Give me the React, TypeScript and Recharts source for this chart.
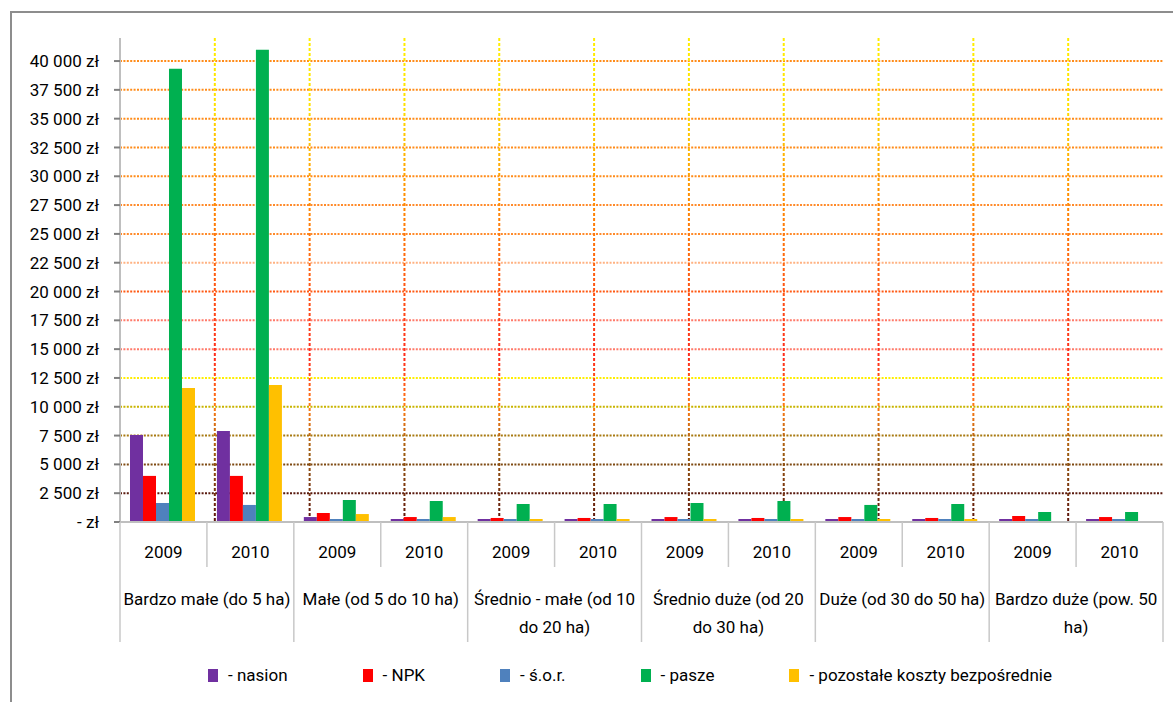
import React from "react";
import { BarChart, Bar, XAxis, YAxis, CartesianGrid, Legend } from "recharts";

const FONT = "Roboto, 'Open Sans', sans-serif";
const FS = 17;

// farm size groups (label lines) and years
const groups = [
  ["Bardzo małe (do 5 ha)"],
  ["Małe (od 5 do 10 ha)"],
  ["Średnio - małe (od 10", "do 20 ha)"],
  ["Średnio duże (od 20", "do 30 ha)"],
  ["Duże (od 30 do 50 ha)"],
  ["Bardzo duże (pow. 50", "ha)"],
];
const years = ["2009", "2010"];

// values per cell: group x year (zł)
const nasion = [7550, 7900, 430, 260, 260, 260, 260, 260, 260, 260, 260, 260];
const npk = [4000, 4000, 780, 430, 350, 350, 430, 350, 430, 350, 520, 430];
const sor = [1650, 1480, 260, 260, 260, 260, 260, 260, 260, 260, 260, 260];
const pasze = [39330, 40970, 1910, 1820, 1560, 1560, 1650, 1820, 1480, 1560, 870, 870];
const pozostale = [11630, 11890, 690, 430, 260, 260, 260, 260, 260, 260, 60, 60];

const yTicks = [
  0, 2500, 5000, 7500, 10000, 12500, 15000, 17500, 20000, 22500, 25000, 27500, 30000, 32500, 35000,
  37500, 40000,
];

const series = [
  { key: "nasion", name: "- nasion", values: nasion },
  { key: "npk", name: "- NPK", values: npk },
  { key: "sor", name: "- ś.o.r.", values: sor },
  { key: "pasze", name: "- pasze", values: pasze },
  { key: "pozostale", name: "- pozostałe koszty bezpośrednie", values: pozostale },
];

const colors: Record<string, string> = {
  nasion: "#7030A0",
  npk: "#FF0000",
  sor: "#4F81BD",
  pasze: "#00B050",
  pozostale: "#FFC000",
};

// horizontal grid colour per y tick (Excel gradient line look)
const hGridColors = [
  "none", "#5a1a0e", "#7f4a12", "#a87a12", "#c9b400", "#ffee00", "#ff7a6a", "#ff7a6a",
  "#ff5a14", "#ffb282", "#ff8a2a", "#ff8a2a", "#ff8c1a", "#ff8c1a", "#ff8c1a", "#ff8c1a", "#ff8c1a",
];

const data = groups.flatMap((g, gi) =>
  years.map((yr, yi) => {
    const i = gi * 2 + yi;
    const row: Record<string, any> = { slot: `${gi}-${yr}`, year: yr, group: gi };
    series.forEach((s) => (row[s.key] = s.values[i]));
    return row;
  })
);

const cellEdges = Array.from({ length: data.length + 1 }, (_, i) => i);

const formatZl = (v: number) =>
  v === 0 ? "- zł" : `${Math.floor(v / 1000)} ${String(v % 1000).padStart(3, "0")} zł`;

const CellTick = (props: any) => {
  const { x, y, payload } = props;
  const i = payload.index;
  const half = payload.offset;
  const row = data[i];
  const even = i % 2 === 0;
  const lines = groups[row.group];
  const sep = "#c8c8c8";
  return (
    <g>
      <line x1={x - half} y1={y} x2={x - half} y2={y + (even ? 120 : 45)} stroke={sep} strokeWidth={1.5} />
      {i === data.length - 1 && (
        <line x1={x + half} y1={y} x2={x + half} y2={y + 120} stroke={sep} strokeWidth={1.5} />
      )}
      <text x={x} y={y + 36} textAnchor="middle" fontFamily={FONT} fontSize={FS} fill="#000">
        {row.year}
      </text>
      {even &&
        lines.map((l: string, k: number) => (
          <text key={k} x={x + half} y={y + 83 + k * 28} textAnchor="middle" fontFamily={FONT} fontSize={FS} fill="#000">
            {l}
          </text>
        ))}
    </g>
  );
};

const renderLegend = () => (
  <div style={{ display: "flex", justifyContent: "center", gap: 75, fontFamily: FONT, fontSize: FS, color: "#000" }}>
    {series.map((s) => (
      <div key={s.key} style={{ display: "flex", alignItems: "center" }}>
        <span style={{ display: "inline-block", width: 10, height: 13, background: colors[s.key], marginRight: 10 }} />
        <span>{s.name}</span>
      </div>
    ))}
  </div>
);

export default function App() {
  return (
    <div style={{ position: "absolute", left: 0, top: 0, width: 1173, height: 702, overflow: "hidden", background: "#fff" }}>
      <div style={{ position: "absolute", left: 10, top: 11, width: 1300, height: 800, border: "2px solid #8d8d8d" }} />
      <div style={{ position: "absolute", left: 0, top: 0 }}>
        <BarChart
          width={1173}
          height={702}
          data={data}
          margin={{ top: 38, right: 10, left: 20, bottom: 10 }}
          barCategoryGap="11.5%"
          barGap={0}
        >
          <defs>
            <linearGradient id="vGrad" gradientUnits="userSpaceOnUse" x1="0" y1="38" x2="0" y2="522">
              <stop offset="0" stopColor="#ffee00" />
              <stop offset="0.14" stopColor="#ffe000" />
              <stop offset="0.32" stopColor="#ff9000" />
              <stop offset="0.5" stopColor="#ff5a10" />
              <stop offset="0.66" stopColor="#ff2a1a" />
              <stop offset="0.76" stopColor="#ff7a12" />
              <stop offset="0.86" stopColor="#9a5a10" />
              <stop offset="1" stopColor="#5a120c" />
            </linearGradient>
          </defs>
          <CartesianGrid
            xAxisId="cells"
            syncWithTicks
            horizontal={(p: any) => (
              <line
                key={p.key}
                x1={p.x1}
                y1={p.y1}
                x2={p.x2}
                y2={p.y2}
                stroke={hGridColors[p.index] ?? "none"}
                strokeWidth={2}
                strokeDasharray="2 1.4"
              />
            )}
            vertical={(p: any) =>
              p.index === 0 ? (
                <g key={p.key} />
              ) : (
                <line
                  key={p.key}
                  x1={p.x1}
                  y1={p.y1}
                  x2={p.x2}
                  y2={p.y2}
                  stroke="url(#vGrad)"
                  strokeWidth={2}
                  strokeDasharray="3 2"
                />
              )
            }
          />
          <XAxis
            xAxisId="cells"
            type="number"
            domain={[0, data.length]}
            ticks={cellEdges}
            allowDataOverflow
            hide
          />
          <XAxis
            dataKey="slot"
            interval={0}
            height={170}
            tickSize={0}
            tickMargin={0}
            tickLine={false}
            axisLine={{ stroke: "#bfbfbf", strokeWidth: 2 }}
            tick={<CellTick />}
          />
          <YAxis
            width={100}
            domain={[0, 42000]}
            ticks={yTicks}
            allowDataOverflow
            interval={0}
            tickFormatter={formatZl}
            tickSize={6}
            tickMargin={15}
            tickLine={{ stroke: "#808080", strokeWidth: 2 }}
            axisLine={{ stroke: "#bfbfbf", strokeWidth: 2 }}
            tick={{ fill: "#000", fontSize: FS, fontFamily: FONT }}
          />
          {series.map((s) => (
            <Bar key={s.key} dataKey={s.key} name={s.name} fill={colors[s.key]} isAnimationActive={false} />
          ))}
          <Legend
            layout="horizontal"
            verticalAlign="middle"
            align="center"
            content={renderLegend}
            wrapperStyle={{ top: 665, left: 87, width: 1086 }}
          />
        </BarChart>
      </div>
    </div>
  );
}
